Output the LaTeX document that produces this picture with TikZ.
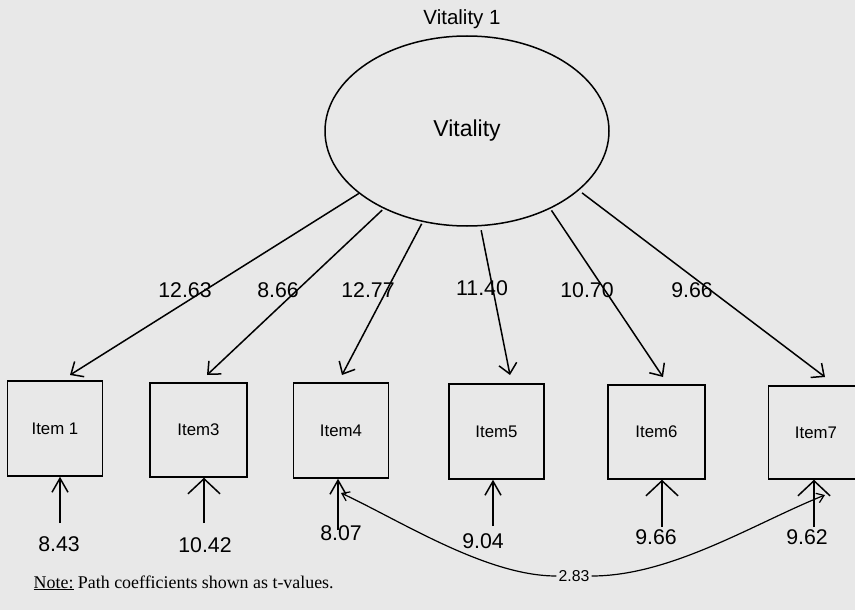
\documentclass[tikz,border=0pt]{standalone}
\usepackage{fontspec}
\setmainfont{Liberation Sans}
\newfontfamily\notefont{Liberation Serif}
\usetikzlibrary{arrows.meta,calc,shapes.geometric}
\begin{document}
\begin{tikzpicture}[x=1pt,y=-1pt,line width=1.5pt,
  bgcol/.style={fill=black!9},
  itembox/.style={draw, minimum width=95pt, minimum height=95pt, inner sep=0pt,
    font=\fontsize{16.8}{18}\selectfont},
  num/.style={font=\fontsize{21.3}{23}\selectfont, inner sep=0pt},
  load/.style={-{Straight Barb[length=10pt,width=18pt]}},
  errbig/.style={-{Straight Barb[length=15pt,width=32pt]}},
  errsmall/.style={-{Straight Barb[length=14pt,width=16pt]}},
  covtip/.style={-{Straight Barb[length=7pt,width=10pt]}, line width=1.2pt}
]
\fill[bgcol] (0,0) rectangle (855,610);
\useasboundingbox (0,0) rectangle (855,610);

% latent variable
\node[anchor=base, font=\fontsize{20.5}{22}\selectfont, inner sep=0pt] (title) at (462,25) {Vitality 1};
\node[draw, ellipse, minimum width=284pt, minimum height=190pt, inner sep=0pt,
      font=\fontsize{23}{25}\selectfont] (vit) at (467,131) {Vitality};

% indicators
\node[itembox] (i1) at (55,428.5) {Item 1};
\node[itembox, minimum width=97pt, minimum height=94pt] (i3) at (198.5,430) {Item3};
\node[itembox] (i4) at (341,430.5) {Item4};
\node[itembox] (i5) at (496.5,431.5) {Item5};
\node[itembox, minimum width=97pt, minimum height=94pt] (i6) at (656.5,432) {Item6};
\node[itembox, minimum height=93pt] (i7) at (816,432.5) {Item7};

% loading arrow tips
\coordinate (t1) at (70,375);
\coordinate (t3) at (207,375);
\coordinate (t4) at (342,375);
\coordinate (t5) at (510,375);
\coordinate (t6) at (663,377);
\coordinate (t7) at (825,377);

\draw[load] (vit.-150.6) -- (t1);
\draw[load, shorten <=2pt] (vit.-137.8) -- (t3);
\draw[load, shorten <=2pt] (vit.-116.8) -- (t4);
\draw[load, shorten <=4pt] (vit.-82.3) -- (t5);
\draw[load, shorten <=2pt] (vit.-43.3) -- (t6);
\draw[load, shorten <=4pt] (vit.-28.7) -- (t7);

% loading labels
\node[num] (l1) at (185,290.5) {12.63};
\node[num] (l3) at (278,290.5) {8.66};
\node[num] (l4) at (368,290.5) {12.77};
\node[num] (l5) at (482,288) {11.40};
\node[num] (l6) at (587,290) {10.70};
\node[num] (l7) at (692,290) {9.66};

% error terms
\coordinate (e1) at (60,523);
\coordinate (e3) at (204,523);
\coordinate (e4) at (338,530);
\coordinate (e5) at (493,526);
\coordinate (e6) at (662,527);
\coordinate (e7) at (814,527);

\draw[errsmall] (e1) -- (e1 |- i1.south);
\draw[errbig] (e3) -- (e3 |- i3.south);
\draw[errsmall] (e4) -- (e4 |- i4.south);
\draw[errsmall] (e5) -- (e5 |- i5.south);
\draw[errbig] (e6) -- (e6 |- i6.south);
\draw[errbig] (e7) -- (e7 |- i7.south);

\node[num] (b1) at (59,544) {8.43};
\node[num] (b3) at (205,545) {10.42};
\node[num] (b4) at (341,533.5) {8.07};
\node[num] (b5) at (483,541) {9.04};
\node[num] (b6) at (656,537.5) {9.66};
\node[num] (b7) at (807,537.5) {9.62};

% correlated errors
\coordinate (c4) at (341,493);
\coordinate (c7) at (825,495);
\node[font=\fontsize{15.8}{17}\selectfont, inner sep=1.5pt] (k) at (574,576) {2.83};
\draw[covtip] (k.west) .. controls +(-70,0) and +(60,28) .. (c4);
\draw[covtip] (k.east) .. controls +(80,0) and +(-70,28) .. (c7);

% note
\node[anchor=base west, inner sep=0pt, font=\notefont\fontsize{17.9}{20}\selectfont] (note) at (33,588)
  {\underline{Note:} Path coefficients shown as t-values.};
\end{tikzpicture}
\end{document}
